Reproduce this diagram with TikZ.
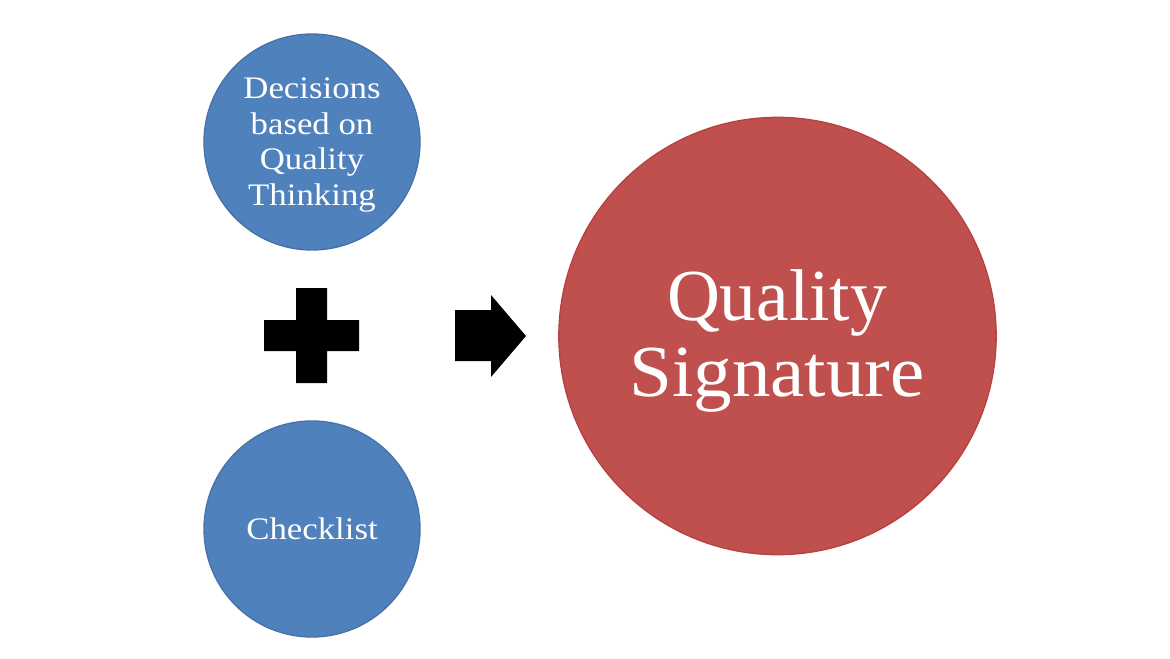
\documentclass[tikz,border=0pt]{standalone}
\usepackage{fontspec}
\setmainfont{Liberation Serif}
\newfontfamily\smallserif[FakeStretch=1.11]{Liberation Serif}
\newfontfamily\bigserif[FakeStretch=1.05]{Liberation Serif}
\definecolor{bluefill}{HTML}{4F81BD}
\definecolor{blueedge}{HTML}{4672A8}
\definecolor{redfill}{HTML}{C0504D}
\definecolor{rededge}{HTML}{B8413F}
\tikzset{
  px/.style={x=0.75pt,y=-0.75pt},
  ball/.style={circle,inner sep=0pt,line width=1pt},
  blueball/.style={ball,fill=bluefill,draw=blueedge,minimum size=162pt},
  redball/.style={ball,fill=redfill,draw=rededge,minimum size=328pt},
  smalltext/.style={align=center,text=white,inner sep=0pt,font=\smallserif\fontsize{23.5pt}{26.6pt}\selectfont},
  bigtext/.style={align=center,text=white,inner sep=0pt,font=\fontsize{55pt}{57pt}\selectfont},
  solidmark/.style={fill=black,draw=none}
}
\begin{document}
\begin{tikzpicture}[px]
\useasboundingbox (0,0) rectangle (1170,658);
\fill[white] (0,0) rectangle (1170,658);
\node[blueball] (d) at (312,142) {};
\node[smalltext] (dt) at (312,145) {Decisions\\based on\\Quality\\Thinking};
\node[blueball] (c) at (312,529) {};
\node[smalltext] (ct) at (312,529) {Checklist};
\node[redball] (q) at (777.5,336) {};
\node[bigtext] (qt) at (777,341) {Quality\\{\bigserif Signature}};
\fill[solidmark] (296,288) -- (327,288) -- (327,320) -- (359,320) -- (359,351) -- (327,351) -- (327,383) -- (296,383) -- (296,351) -- (264,351) -- (264,320) -- (296,320) -- cycle;
\fill[solidmark] (455,310) -- (491,310) -- (491,295) -- (526,336) -- (491,377) -- (491,361) -- (455,361) -- cycle;
\end{tikzpicture}
\end{document}
